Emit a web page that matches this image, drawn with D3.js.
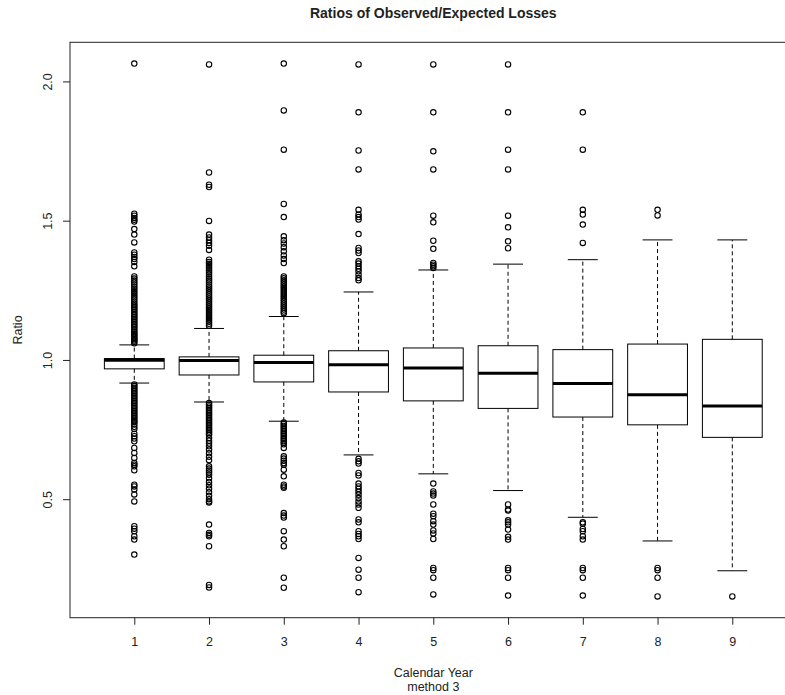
<!DOCTYPE html>
<html>
<head>
<meta charset="utf-8">
<script src="https://cdn.jsdelivr.net/npm/d3@7"></script>
<style>
  html, body { margin: 0; padding: 0; background: #fff; }
  svg { display: block; }
  text { font-family: "Liberation Sans", Arial, sans-serif; fill: #222; }
</style>
</head>
<body>
<div id="chart"></div>
<script>
// ---------------- data ----------------
const categories = ["1", "2", "3", "4", "5", "6", "7", "8", "9"];
const whiskerLow  = [0.917, 0.849, 0.780, 0.659, 0.591, 0.531, 0.435, 0.350, 0.243];
const q1          = [0.968, 0.946, 0.921, 0.885, 0.853, 0.826, 0.795, 0.767, 0.722];
const medians     = [0.999, 0.998, 0.991, 0.983, 0.971, 0.952, 0.915, 0.875, 0.835];
const q3          = [1.005, 1.011, 1.017, 1.033, 1.043, 1.051, 1.037, 1.057, 1.074];
const whiskerHigh = [1.054, 1.113, 1.156, 1.244, 1.323, 1.344, 1.360, 1.431, 1.431];

const outliers1 = [2.064, 1.525, 1.518, 1.510, 1.503, 1.497, 1.470, 1.450, 1.422, 1.386, 1.378, 1.370, 1.362, 1.352, 1.336,
  1.300, 1.292, 1.285, 1.278, 1.270, 1.262, 1.255, 1.247, 1.240, 1.232, 1.225, 1.218, 1.210, 1.203, 1.196, 1.190, 1.184,
  1.178, 1.172, 1.166, 1.160, 1.154, 1.148, 1.142, 1.136, 1.130, 1.124, 1.118, 1.112, 1.106, 1.100, 1.095, 1.090, 1.085,
  1.080, 1.075, 1.070, 1.065, 1.060,
  0.912, 0.906, 0.900, 0.894, 0.888, 0.882, 0.876, 0.870, 0.864, 0.858, 0.852, 0.846, 0.840, 0.834, 0.828, 0.822, 0.816,
  0.810, 0.804, 0.798, 0.792, 0.786, 0.780, 0.776, 0.768, 0.760, 0.752, 0.735, 0.726, 0.718, 0.708, 0.684, 0.666, 0.648,
  0.630, 0.624, 0.618, 0.604, 0.552, 0.546, 0.535, 0.517, 0.492, 0.403, 0.394, 0.385, 0.367, 0.355, 0.301];
const outliers2 = [2.061, 1.673, 1.629, 1.621, 1.499, 1.450, 1.440, 1.430, 1.420, 1.410, 1.395,
  1.360, 1.352, 1.345, 1.338, 1.330, 1.322, 1.315, 1.308, 1.300, 1.292, 1.285, 1.278, 1.270, 1.263, 1.256, 1.249, 1.242,
  1.235, 1.228, 1.221, 1.214, 1.207, 1.200, 1.193, 1.186, 1.179, 1.172, 1.165, 1.158, 1.151, 1.144, 1.137, 1.130, 1.123,
  0.845, 0.839, 0.833, 0.827, 0.821, 0.815, 0.809, 0.803, 0.797, 0.791, 0.785, 0.779, 0.773, 0.767, 0.761, 0.755, 0.749,
  0.743, 0.737, 0.731, 0.720, 0.710, 0.700, 0.690, 0.678, 0.665, 0.652, 0.640, 0.618, 0.610, 0.603, 0.596, 0.588, 0.575,
  0.562, 0.550, 0.538, 0.525, 0.512, 0.500, 0.492, 0.488, 0.409, 0.379, 0.372, 0.367, 0.331, 0.192, 0.183];
const outliers3 = [2.064, 1.896, 1.755, 1.560, 1.513, 1.444, 1.430, 1.418, 1.405, 1.390, 1.375, 1.362, 1.348,
  1.300, 1.293, 1.286, 1.279, 1.272, 1.265, 1.258, 1.251, 1.244, 1.237, 1.230, 1.223, 1.216, 1.209, 1.202, 1.195, 1.188,
  1.181, 1.174, 1.168,
  0.775, 0.769, 0.763, 0.757, 0.751, 0.745, 0.739, 0.733, 0.727, 0.721, 0.715, 0.709, 0.703, 0.697, 0.684, 0.654, 0.646,
  0.638, 0.630, 0.624, 0.606, 0.582, 0.552, 0.546, 0.541, 0.450, 0.441, 0.434, 0.385, 0.355, 0.331, 0.218, 0.182];
const outliers4 = [2.061, 1.889, 1.752, 1.684, 1.539, 1.522, 1.513, 1.504, 1.452, 1.402, 1.393, 1.384, 1.354, 1.346,
  1.336, 1.327, 1.318, 1.306, 1.294, 1.286,
  0.645, 0.636, 0.628, 0.594, 0.585, 0.556, 0.546, 0.537, 0.527, 0.516, 0.504, 0.492, 0.481, 0.469, 0.427, 0.417, 0.385,
  0.375, 0.367, 0.357, 0.289, 0.247, 0.218, 0.166];
const outliers5 = [2.061, 1.889, 1.749, 1.684, 1.518, 1.494, 1.428, 1.399, 1.348, 1.342, 1.336, 1.330,
  0.556, 0.528, 0.520, 0.513, 0.481, 0.448, 0.439, 0.421, 0.409, 0.388, 0.377, 0.357, 0.253, 0.245, 0.218, 0.158];
const outliers6 = [2.061, 1.889, 1.755, 1.684, 1.518, 1.476, 1.426, 1.401,
  0.481, 0.463, 0.459, 0.424, 0.417, 0.409, 0.391, 0.365, 0.355, 0.253, 0.245, 0.218, 0.154];
const outliers7 = [1.889, 1.755, 1.539, 1.522, 1.486, 1.420,
  0.417, 0.412, 0.393, 0.385, 0.367, 0.355, 0.253, 0.245, 0.218, 0.154];
const outliers8 = [1.539, 1.519, 0.253, 0.245, 0.218, 0.151];
const outliers9 = [0.151];
const outlierLists = [outliers1, outliers2, outliers3, outliers4, outliers5, outliers6, outliers7, outliers8, outliers9];

const yTicks = [0.5, 1.0, 1.5, 2.0];
const titleText = "Ratios of Observed/Expected Losses";
const xLabelLines = ["Calendar Year", "method 3"];
const yLabelText = "Ratio";

// ---------------- layout ----------------
const W = 785, H = 695;
const plot = { left: 70, top: 42.3, right: 796.6, bottom: 617.7 };

const svg = d3.select("#chart").append("svg").attr("width", W).attr("height", H);

// scales (R style: 4% padding on each side)
const allVals = outlierLists.flat().concat(whiskerLow, whiskerHigh);
const [lo, hi] = d3.extent(allVals);
const pad = (hi - lo) * 0.04;
const y = d3.scaleLinear().domain([lo - pad, hi + pad]).range([plot.bottom, plot.top]);
const n = categories.length;
const xpad = n * 0.04;
const x = d3.scaleLinear().domain([0.5 - xpad, n + 0.5 + xpad]).range([plot.left, plot.right]);

const boxW = (x(2) - x(1)) * 0.8;
const stapleW = boxW / 2;
const ink = "#000";

const data = categories.map((c, i) => ({
  cat: c, pos: i + 1, lo: whiskerLow[i], q1: q1[i], med: medians[i], q3: q3[i], hi: whiskerHigh[i], out: outlierLists[i]
}));

const g = svg.append("g");

const groups = g.selectAll("g.box").data(data).enter().append("g").attr("class", "box");

// whiskers (dashed)
groups.append("line")
  .attr("x1", d => x(d.pos)).attr("x2", d => x(d.pos))
  .attr("y1", d => y(d.q3)).attr("y2", d => y(d.hi))
  .attr("stroke", ink).attr("stroke-width", 1).attr("stroke-dasharray", "4,3");
groups.append("line")
  .attr("x1", d => x(d.pos)).attr("x2", d => x(d.pos))
  .attr("y1", d => y(d.q1)).attr("y2", d => y(d.lo))
  .attr("stroke", ink).attr("stroke-width", 1).attr("stroke-dasharray", "4,3");
// staples
groups.append("line")
  .attr("x1", d => x(d.pos) - stapleW / 2).attr("x2", d => x(d.pos) + stapleW / 2)
  .attr("y1", d => y(d.hi)).attr("y2", d => y(d.hi))
  .attr("stroke", ink).attr("stroke-width", 1);
groups.append("line")
  .attr("x1", d => x(d.pos) - stapleW / 2).attr("x2", d => x(d.pos) + stapleW / 2)
  .attr("y1", d => y(d.lo)).attr("y2", d => y(d.lo))
  .attr("stroke", ink).attr("stroke-width", 1);
// box
groups.append("rect")
  .attr("x", d => x(d.pos) - boxW / 2).attr("width", boxW)
  .attr("y", d => y(d.q3)).attr("height", d => y(d.q1) - y(d.q3))
  .attr("fill", "none").attr("stroke", ink).attr("stroke-width", 1);
// median
groups.append("line")
  .attr("x1", d => x(d.pos) - boxW / 2).attr("x2", d => x(d.pos) + boxW / 2)
  .attr("y1", d => y(d.med)).attr("y2", d => y(d.med))
  .attr("stroke", "#000").attr("stroke-width", 3);
// outliers
groups.each(function (d) {
  d3.select(this).selectAll("circle").data(d.out).enter().append("circle")
    .attr("cx", x(d.pos)).attr("cy", v => y(v)).attr("r", 2.7)
    .attr("fill", "none").attr("stroke", ink).attr("stroke-width", 1.1);
});

// frame
svg.append("rect")
  .attr("x", plot.left).attr("y", plot.top)
  .attr("width", plot.right - plot.left).attr("height", plot.bottom - plot.top)
  .attr("fill", "none").attr("stroke", "#222").attr("stroke-width", 1);

// y axis
const yAxis = d3.axisLeft(y).tickValues(yTicks).tickFormat(d3.format(".1f")).tickSize(7).tickSizeOuter(0);
const ya = svg.append("g").attr("transform", `translate(${plot.left},0)`).call(yAxis);
ya.select(".domain").remove();
ya.selectAll(".tick line").attr("stroke", "#222");
ya.selectAll(".tick text")
  .attr("x", 0)
  .attr("transform", "translate(-22,0) rotate(-90)")
  .attr("text-anchor", "middle").attr("dy", "0.35em")
  .style("font-size", "12.5px").style("font-family", "Liberation Sans, Arial, sans-serif").attr("fill", "#222");

// x axis
const xAxis = d3.axisBottom(x).tickValues(data.map(d => d.pos)).tickFormat((d, i) => categories[i]).tickSize(7).tickSizeOuter(0);
const xa = svg.append("g").attr("transform", `translate(0,${plot.bottom})`).call(xAxis);
xa.select(".domain").remove();
xa.selectAll(".tick line").attr("stroke", "#222");
xa.selectAll(".tick text").attr("y", 24).attr("dy", "0.35em")
  .style("font-size", "12.5px").style("font-family", "Liberation Sans, Arial, sans-serif").attr("fill", "#222");

// title
const cx = (plot.left + plot.right) / 2;
svg.append("text").attr("x", cx).attr("y", 18).attr("text-anchor", "middle")
  .style("font-size", "14px").style("font-weight", "bold").text(titleText);

// x label
svg.selectAll("text.xlab").data(xLabelLines).enter().append("text").attr("class", "xlab")
  .attr("x", cx).attr("y", (d, i) => 677 + i * 14).attr("text-anchor", "middle")
  .style("font-size", "12.5px").text(d => d);

// y label
svg.append("text").attr("transform", `translate(22,${(plot.top + plot.bottom) / 2}) rotate(-90)`)
  .attr("text-anchor", "middle").style("font-size", "12.5px").text(yLabelText);
</script>
</body>
</html>
